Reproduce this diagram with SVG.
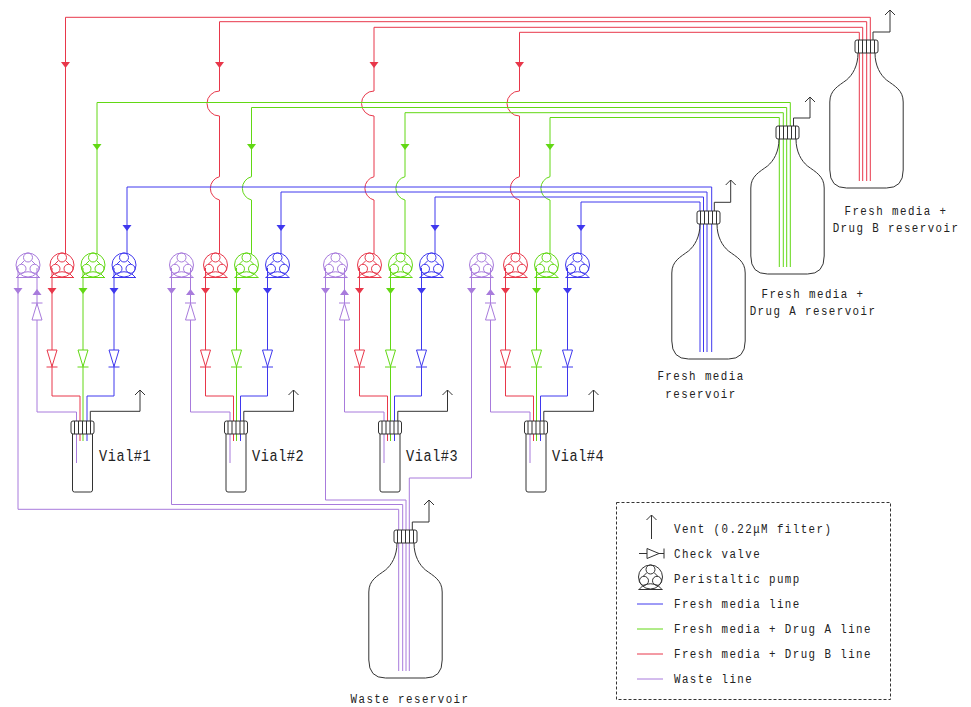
<svg xmlns="http://www.w3.org/2000/svg" width="971" height="707" viewBox="0 0 971 707">
<style>
.l{fill:none;stroke-width:1}
.r{stroke:#e8374a}.g{stroke:#62d814}.b{stroke:#3f38ee}.p{stroke:#a87bdc}
.k{fill:none;stroke:#333;stroke-width:1}
.rf{fill:#e8374a}.gf{fill:#62d814}.bf{fill:#3f38ee}.pf{fill:#a87bdc}
text{font-family:"Liberation Mono",monospace;font-size:13.5px;letter-spacing:1.8px;fill:#222;stroke:none}
.v{font-size:17px;letter-spacing:.7px}
.c{text-anchor:middle}
</style>
<defs>
<g id="pump"><circle r="12" fill="#fff"/><circle cy="-7.500" r="4.500"/><circle cx="-6.500" cy="3.800" r="4.500"/><circle cx="6.500" cy="3.800" r="4.500"/><path d="M-3.500-4.500-7-1M3.500-4.500 7-1M-7 8.500Q0 5 7 8.500M-8 9-11.500 12.500M8 9 11.500 12.500M-12 12.500H12"/></g>
<path id="down" d="M-4.500-3H4.500L0 3Z"/>
<path id="valve" d="M-5 0H5L0 16.500Z" fill="#fff"/>
<g id="cap"><rect x="-11.500" width="23" height="13" rx="2" fill="#fff"/><path d="M-8 0V13M-4 0V13M0 0V13M4 0V13M8 0V13"/></g>
<path id="bottle" d="M-8.500 13C-8.500 26-14 35-20 40C-28 46-36.700 50-36.700 62V130Q-36.700 148-20 148H20Q36.700 148 36.700 130V62C36.700 50 28 46 20 40C14 35 8.500 26 8.500 13"/>
<path id="vial" d="M-10 12V69Q-10 71-8 71H8Q10 71 10 69V12"/>
<path id="chev" d="M-5 5 0 0 5 5"/>
</defs>

<g id="pumps" class="l">
<g class="p"><use href="#pump" x="28" y="265"/><use href="#pump" x="181.500" y="265"/><use href="#pump" x="335.500" y="265"/><use href="#pump" x="481.500" y="265"/></g>
<g class="r"><use href="#pump" x="62" y="265"/><use href="#pump" x="215.500" y="265"/><use href="#pump" x="369.500" y="265"/><use href="#pump" x="515.500" y="265"/></g>
<g class="g"><use href="#pump" x="93" y="265"/><use href="#pump" x="246.500" y="265"/><use href="#pump" x="400.500" y="265"/><use href="#pump" x="546.500" y="265"/></g>
<g class="b"><use href="#pump" x="124" y="265"/><use href="#pump" x="277.500" y="265"/><use href="#pump" x="431.500" y="265"/><use href="#pump" x="577.500" y="265"/></g>
</g>

<g id="connectors">
<g class="l r">
<path d="M859.300 181V32.300H519.500V91A12.500 12.500 0 0 0 519.500 116V176.700A12 12 0 0 0 519.500 200V254"/>
<path d="M862.700 181V27.300H374V91A12.500 12.500 0 0 0 374 116V176.700A12 12 0 0 0 374 200V254"/>
<path d="M866.700 181V21.700H219.500V91A12.500 12.500 0 0 0 219.500 116V176.700A12 12 0 0 0 219.500 200V254"/>
<path d="M870.300 181V17.300H65.500V254"/>
<path d="M52 268V396H80V441"/>
<path d="M205.500 268V396H233.500V441"/>
<path d="M359.500 268V396H387.500V441"/>
<path d="M505.500 268V396H533.500V441"/>
</g>
<g class="l g">
<path d="M790.300 267V102.500H97V254"/>
<path d="M786.700 267V107.500H251.500V176.700A12 12 0 0 0 251.500 200V254"/>
<path d="M783.300 267V112.700H405V176.700A12 12 0 0 0 405 200V254"/>
<path d="M779.300 267V117.500H550V176.700A12 12 0 0 0 550 200V254"/>
<path d="M83 268V441"/><path d="M236.500 268V441"/><path d="M390.500 268V441"/><path d="M536.500 268V441"/>
</g>
<g class="l b">
<path d="M711.700 352V187H127V254"/>
<path d="M707 352V192H281V254"/>
<path d="M703.500 352V197H435V254"/>
<path d="M700 352V202H581V254"/>
<path d="M114 268V396H87V441"/>
<path d="M267.500 268V396H240.500V441"/>
<path d="M421.500 268V396H394.500V441"/>
<path d="M567.500 268V396H540.500V441"/>
</g>
<g class="l p">
<path d="M18 268V509.300H398.700V671"/>
<path d="M171.500 268V504.500H402.700V671"/>
<path d="M325.500 268V500H406V671"/>
<path d="M471.500 268V478H409.300V671"/>
<path d="M37 268V412H76.500V463"/>
<path d="M190.500 268V412H230V463"/>
<path d="M344.500 268V412H384V463"/>
<path d="M490.500 268V412H530V463"/>
</g>
<g class="rf">
<use href="#down" x="65.500" y="65"/><use href="#down" x="219.500" y="65"/><use href="#down" x="374" y="65"/><use href="#down" x="519.500" y="65"/>
<use href="#down" x="52" y="291"/><use href="#down" x="205.500" y="291"/><use href="#down" x="359.500" y="291"/><use href="#down" x="505.500" y="291"/>
</g>
<g class="gf">
<use href="#down" x="97" y="147"/><use href="#down" x="251.500" y="147"/><use href="#down" x="405" y="147"/><use href="#down" x="550" y="147"/>
<use href="#down" x="83" y="291"/><use href="#down" x="236.500" y="291"/><use href="#down" x="390.500" y="291"/><use href="#down" x="536.500" y="291"/>
</g>
<g class="bf">
<use href="#down" x="127" y="228"/><use href="#down" x="281" y="228"/><use href="#down" x="435" y="228"/><use href="#down" x="581" y="228"/>
<use href="#down" x="114" y="291"/><use href="#down" x="267.500" y="291"/><use href="#down" x="421.500" y="291"/><use href="#down" x="567.500" y="291"/>
</g>
<g class="pf">
<use href="#down" x="18" y="291"/><use href="#down" x="171.500" y="291"/><use href="#down" x="325.500" y="291"/><use href="#down" x="471.500" y="291"/>
<use href="#down" transform="translate(37 292) scale(1 -1)"/><use href="#down" transform="translate(190.500 292) scale(1 -1)"/><use href="#down" transform="translate(344.500 292) scale(1 -1)"/><use href="#down" transform="translate(490.500 292) scale(1 -1)"/>
</g>
</g>

<g id="check-valves" class="l">
<g class="r"><use href="#valve" x="52" y="350"/><use href="#valve" x="205.500" y="350"/><use href="#valve" x="359.500" y="350"/><use href="#valve" x="505.500" y="350"/>
<path d="M46.500 367H57.500M200 367H211M354 367H365M500 367H511"/></g>
<g class="g"><use href="#valve" x="83" y="350"/><use href="#valve" x="236.500" y="350"/><use href="#valve" x="390.500" y="350"/><use href="#valve" x="536.500" y="350"/>
<path d="M77.500 367H88.500M231 367H242M385 367H396M531 367H542"/></g>
<g class="b"><use href="#valve" x="114" y="350"/><use href="#valve" x="267.500" y="350"/><use href="#valve" x="421.500" y="350"/><use href="#valve" x="567.500" y="350"/>
<path d="M108.500 367H119.500M262 367H273M416 367H427M562 367H573"/></g>
<g class="p"><use href="#valve" transform="translate(37 320) scale(1 -1)"/><use href="#valve" transform="translate(190.500 320) scale(1 -1)"/><use href="#valve" transform="translate(344.500 320) scale(1 -1)"/><use href="#valve" transform="translate(490.500 320) scale(1 -1)"/>
<path d="M31.500 303H42.500M185 303H196M339 303H350M485 303H496"/></g>
</g>

<g id="vial1" class="k"><use href="#vial" x="82.500" y="421"/><use href="#cap" x="82.500" y="421"/><path d="M90.300 421V411.300H140V390"/><use href="#chev" x="140" y="390"/><text transform="translate(99 461) scale(.8 1)" class="v">Vial#1</text></g>
<g id="vial2" class="k"><use href="#vial" x="236" y="421"/><use href="#cap" x="236" y="421"/><path d="M243.800 421V411.300H293.500V390"/><use href="#chev" x="293.500" y="390"/><text transform="translate(252 461) scale(.8 1)" class="v">Vial#2</text></g>
<g id="vial3" class="k"><use href="#vial" x="390" y="421"/><use href="#cap" x="390" y="421"/><path d="M397.800 421V411.300H447.500V390"/><use href="#chev" x="447.500" y="390"/><text transform="translate(406 461) scale(.8 1)" class="v">Vial#3</text></g>
<g id="vial4" class="k"><use href="#vial" x="536" y="421"/><use href="#cap" x="536" y="421"/><path d="M543.800 421V411.300H593.500V390"/><use href="#chev" x="593.500" y="390"/><text transform="translate(552 461) scale(.8 1)" class="v">Vial#4</text></g>

<g id="reservoir-b" class="k"><use href="#bottle" x="866.500" y="40"/><use href="#cap" x="866.500" y="40"/><path d="M873 40V32H890V10"/><use href="#chev" x="890" y="10"/>
<text transform="translate(896 215) scale(.8 1)" class="c">Fresh media +</text><text transform="translate(896 232) scale(.8 1)" class="c">Drug B reservoir</text></g>
<g id="reservoir-a" class="k"><use href="#bottle" x="787.500" y="126"/><use href="#cap" x="787.500" y="126"/><path d="M793.500 126V118H810V97"/><use href="#chev" x="810" y="97"/>
<text transform="translate(813 298) scale(.8 1)" class="c">Fresh media +</text><text transform="translate(813 315) scale(.8 1)" class="c">Drug A reservoir</text></g>
<g id="reservoir-f" class="k"><use href="#bottle" x="708.500" y="211"/><use href="#cap" x="708.500" y="211"/><path d="M714.300 211V202.300H730.700V180"/><use href="#chev" x="730.700" y="180"/>
<text transform="translate(701 380) scale(.8 1)" class="c">Fresh media</text><text transform="translate(701 398) scale(.8 1)" class="c">reservoir</text></g>
<g id="reservoir-w" class="k"><use href="#bottle" x="405.500" y="530"/><use href="#cap" x="405.500" y="530"/><path d="M412.300 530V522H429V500"/><use href="#chev" x="429" y="500"/>
<text transform="translate(410 703) scale(.8 1)" class="c">Waste reservoir</text></g>

<g id="legend">
<rect x="616.500" y="502.500" width="274" height="197" fill="none" stroke="#333" stroke-dasharray="3 2"/>
<g class="k"><path d="M651.500 539V515"/><use href="#chev" x="651.500" y="515"/>
<path d="M639 553.500H647M647 548.500V558.500L659 553.500ZM659 553.500H664M664 548.500V558.500"/>
<use href="#pump" x="650.500" y="577"/></g>
<path class="l b" d="M637 604H663"/><path class="l g" d="M637 629H663"/><path class="l r" d="M637 654H663"/><path class="l p" d="M637 679H663"/>
<text transform="translate(674 533) scale(.8 1)">Vent (0.22μM filter)</text>
<text transform="translate(674 558) scale(.8 1)">Check valve</text>
<text transform="translate(674 583) scale(.8 1)">Peristaltic pump</text>
<text transform="translate(674 608) scale(.8 1)">Fresh media line</text>
<text transform="translate(674 633) scale(.8 1)">Fresh media + Drug A line</text>
<text transform="translate(674 658) scale(.8 1)">Fresh media + Drug B line</text>
<text transform="translate(674 683) scale(.8 1)">Waste line</text>
</g>
</svg>
